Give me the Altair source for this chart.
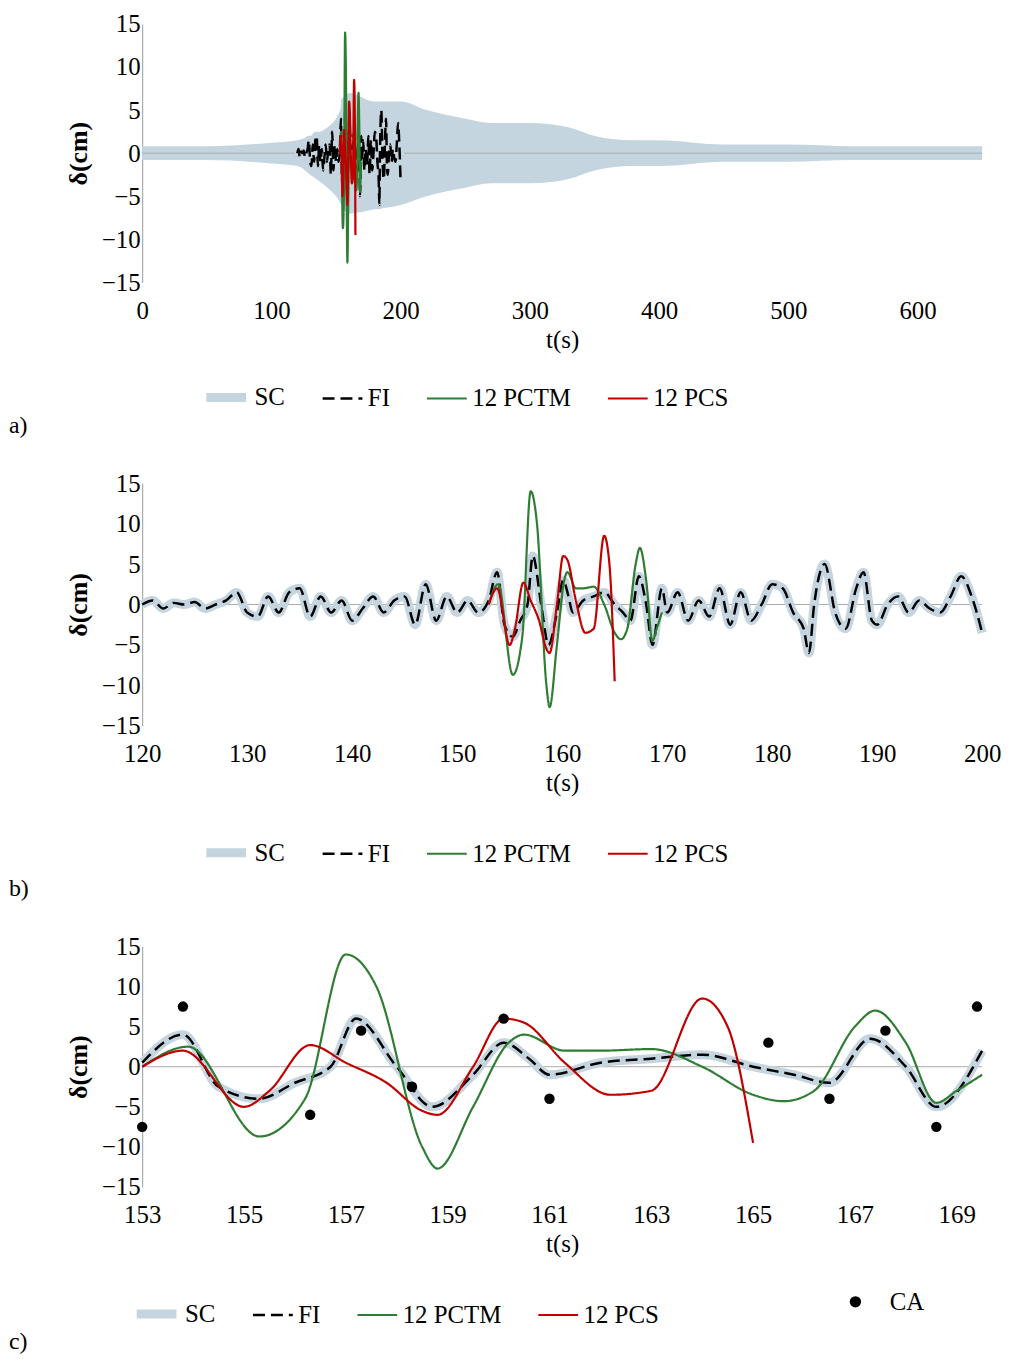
import altair as alt
import pandas as pd

# FI (also SC in panels b and c): time [s] and displacement [cm]
fi_t = [120, 121, 122, 123, 124, 125, 126, 127, 128, 129, 130, 131, 132, 133, 134, 135, 136, 137, 138, 139,
        140, 141, 142, 143, 144, 145, 146, 147, 148, 149, 150, 151, 152,
        153, 153.8, 154.5, 155.3, 156, 156.7, 157.2, 158, 158.7, 159.5, 160.1, 160.6, 161, 162, 163, 164,
        165, 165.8, 166.5, 167.3, 168, 168.6, 169.5,
        170, 171, 172, 173, 174, 175, 176, 177, 178, 179, 180, 181, 182, 183, 183.5, 184, 185, 186, 187,
        188, 188.7, 189.5, 190, 191, 192, 193, 194, 195, 196, 197, 198, 199, 200]
fi_v = [0, 0.5, -0.5, 0.2, 0, 0.3, -0.5, 0, 0.5, 1.5, -1, -1.5, 1, -1, 1.5, 2, -1.5, 1, -1, 0.5,
        -2, -0.5, 1, -1, 0.5, 1, -2.5, 2.5, -2, 1, -1, 0.5, -1,
        0.5, 4, -2.5, -4, -2, 0, 6, 0, -5, -1, 3, 1, -1, 0.5, 1, 1.5,
        0, -1, -2, 3.5, 0, -5, 2,
        -1, 1.5, -2, 0.5, -1.5, 2, -2.5, 1.5, -2, 0, 2.5, 2, -1, -3, -6, 0, 5, -1, -3,
        2, 4, -2, -2.5, 0, 1, -1, 0.5, -0.5, -1, 1, 3.5, 1, -3.5]

pctm_t = [153, 153.9, 155.3, 156.2, 157, 157.6, 158.5, 158.8, 159.5, 160.2, 160.5, 161.3, 162, 163, 164,
          165, 165.6, 166.2, 167, 167.4, 168, 168.6, 169, 169.5]
pctm_v = [0, 2.5, -8.7, -4, 14, 10, -10, -12.7, -5, 3, 4, 2, 2, 2.2, 0,
          -3.5, -4.3, -3, 5, 7, 3, -4.5, -3, -1]

pcs_t = [153, 153.8, 155, 155.5, 156.3, 157, 157.8, 158.5, 158.8, 159.5, 160.1, 160.5, 161.3, 162.2, 163,
         164, 164.5, 165]
pcs_v = [0, 2, -5, -3, 2.7, 0.5, -2, -5.5, -6, 0, 6, 5.5, 0.5, -3.5, -3,
         8.5, 5, -9.5]

ca_t = [153, 153.8, 156.3, 157.3, 158.3, 160.1, 161, 165.3, 166.5, 167.6, 168.6, 169.4]
ca_v = [-7.5, 7.5, -6, 4.5, -2.5, 6, -4, 3, -4, 4.5, -7.5, 7.5]

# SC envelope for the full record (panel a)
env_t = [0, 50, 100, 120, 130, 150, 160, 180, 200, 220, 250, 270, 300, 330, 350, 380, 400, 450, 500, 550, 600, 650]
env_hi = [0.8, 0.8, 1.2, 1.5, 2, 4, 7, 6, 6, 5, 4, 3.5, 3.5, 3, 2, 1.5, 1.5, 1, 1, 0.8, 0.8, 0.8]
env_lo = [-0.8, -0.8, -1.2, -1.5, -2.5, -5, -7, -6.5, -6, -5, -4, -3.5, -3.5, -3, -2, -1.5, -1.5, -1, -1, -0.8, -0.8, -0.8]

series = ['SC', 'FI', '12 PCTM', '12 PCS']
colors = ['#c5d5e0', '#000000', '#2e7d32', '#c00000']
dashes = [[1, 0], [12, 6], [1, 0], [1, 0]]
widths = [9, 2.5, 2.2, 2.2]
FONT = 'Liberation Serif'

fi = pd.DataFrame({'t': fi_t, 'v': fi_v})
lines = pd.concat([
    fi.assign(s='SC'),
    fi.assign(s='FI'),
    pd.DataFrame({'t': pctm_t, 'v': pctm_v, 's': '12 PCTM'}),
    pd.DataFrame({'t': pcs_t, 'v': pcs_v, 's': '12 PCS'}),
])
env = pd.DataFrame({'t': env_t, 'hi': env_hi, 'lo': env_lo})
ca = pd.DataFrame({'t': ca_t, 'v': ca_v, 'k': 'CA'})


def panel(x0, x1, step, label, with_env=False, with_ca=False, h=250, lx=60, ly=110, toff=-2):
    legend = alt.Legend(title=None, orient='none', legendX=lx, legendY=h + ly, direction='horizontal',
                        symbolType='stroke', symbolSize=1600, labelFontSize=25, labelFont=FONT,
                        labelColor='black', columnPadding=32)
    xs = alt.Scale(domain=[x0, x1], nice=False, zero=False)
    ys = alt.Scale(domain=[-15, 15])
    xax = alt.Axis(values=list(range(x0, int(x1) + 1, step)), domain=False, ticks=False, grid=False,
                   labelFlush=False, labelFontSize=25, labelFont=FONT, titleFontSize=25,
                   titleFont=FONT, titleFontWeight='normal', labelColor='black', titleColor='black',
                   labelPadding=16)
    yax = alt.Axis(values=list(range(-15, 16, 5)), ticks=False, grid=False, domainColor='#999',
                   labelFontSize=25, labelFont=FONT, titleFontSize=26, titleFont=FONT,
                   labelColor='black', titleColor='black', titleFontWeight='bold', titlePadding=10)
    data = lines[(lines.t >= x0) & (lines.t <= x1)]
    base = alt.Chart(data).mark_line(interpolate='monotone').encode(
        x=alt.X('t:Q', scale=xs, axis=xax, title='t(s)'),
        y=alt.Y('v:Q', scale=ys, axis=yax, title='δ(cm)'),
        color=alt.Color('s:N', scale=alt.Scale(domain=series, range=colors), legend=legend),
        strokeDash=alt.StrokeDash('s:N', scale=alt.Scale(domain=series, range=dashes), legend=legend),
        strokeWidth=alt.StrokeWidth('s:N', scale=alt.Scale(type='ordinal', domain=series, range=widths),
                                    legend=legend),
        order=alt.Order('o:Q'),
    ).transform_calculate(o="indexof(['SC','FI','12 PCTM','12 PCS'], datum.s)")
    zero = alt.Chart(pd.DataFrame({'z': [0]})).mark_rule(color='#aaa', strokeWidth=1).encode(
        y=alt.Y('z:Q', scale=ys))
    layers = []
    if with_env:
        layers.append(alt.Chart(env).mark_area(color='#c5d5e0', interpolate='monotone').encode(
            x=alt.X('t:Q', scale=xs), y=alt.Y('hi:Q', scale=ys), y2='lo:Q'))
    layers += [zero, base]
    if with_ca:
        layers.append(alt.Chart(ca).mark_circle(size=110, opacity=1).encode(
            x=alt.X('t:Q', scale=xs), y=alt.Y('v:Q', scale=ys),
            fill=alt.Fill('k:N', scale=alt.Scale(domain=['CA'], range=['black']),
                          legend=alt.Legend(title=None, orient='none', legendX=705, legendY=h + ly,
                                            labelFontSize=25, labelFont=FONT, labelColor='black',
                                            symbolSize=130, symbolType='circle', labelOffset=22))))
    return alt.layer(*layers).properties(
        width=845, height=h,
        title=alt.TitleParams(label, orient='bottom', anchor='start', font=FONT, fontSize=24,
                              fontWeight='normal', offset=toff, dx=-57, color='black'))


chart = alt.vconcat(
    panel(0, 650, 100, 'a)', with_env=True, h=260, lx=60, ly=91),
    panel(120, 200, 10, 'b)', h=244, lx=60, ly=103, toff=6),
    panel(153, 169.5, 2, 'c)', with_ca=True, h=242, lx=-10, ly=103),
    spacing=34,
).resolve_scale(color='independent', strokeDash='independent', strokeWidth='independent',
                fill='independent').configure_view(stroke=None).properties(
    padding={'left': 0, 'top': 0, 'right': 8, 'bottom': 5})

chart.save("out.html", embed_options={"renderer": "svg", "actions": False})
